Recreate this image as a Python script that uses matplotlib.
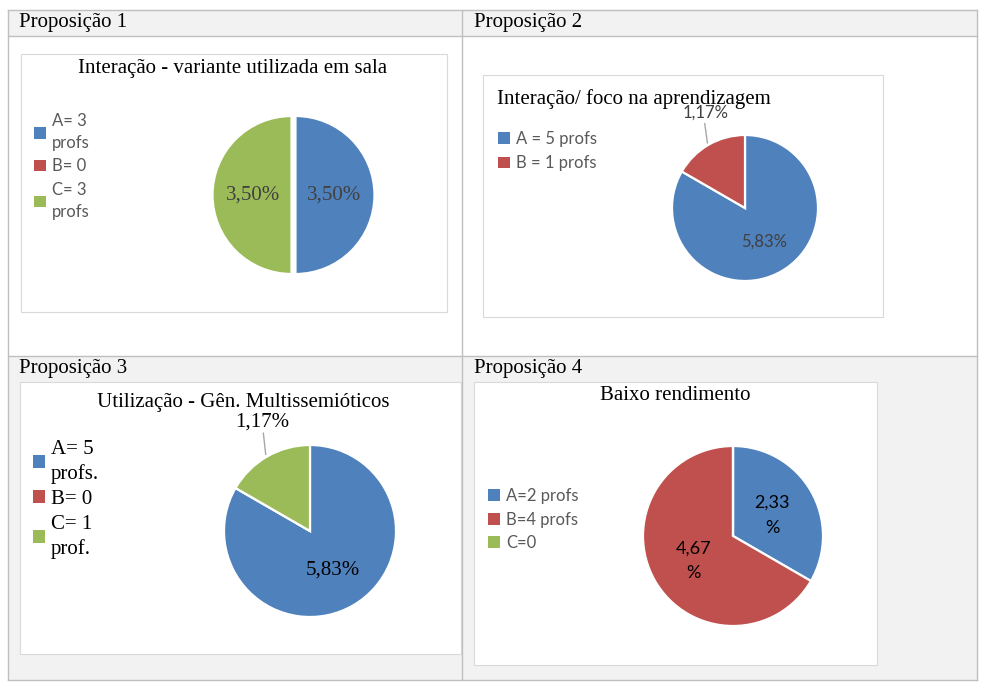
import matplotlib.pyplot as plt
import numpy as np
from matplotlib.patches import Rectangle

# dados
cores = ['#4f81bd', '#c0504d', '#9bbb59']

titulo_1 = 'Interação - variante utilizada em sala'
legenda_1 = ['A= 3\nprofs', 'B= 0', 'C= 3\nprofs']
valores_1 = [3, 0, 3]
rotulos_1 = ['3,50%', '', '3,50%']

titulo_2 = 'Interação/ foco na aprendizagem'
legenda_2 = ['A = 5 profs', 'B = 1 profs']
valores_2 = [5, 1]
rotulos_2 = ['5,83%', '1,17%']

titulo_3 = 'Utilização - Gên. Multissemióticos'
legenda_3 = ['A= 5\nprofs.', 'B= 0', 'C= 1\nprof.']
valores_3 = [5, 0, 1]
rotulos_3 = ['5,83%', '', '1,17%']

titulo_4 = 'Baixo rendimento'
legenda_4 = ['A=2 profs', 'B=4 profs', 'C=0']
valores_4 = [2, 4, 0]
rotulos_4 = ['2,33\n%', '4,67\n%', '']

cabecalhos = ['Proposição 1', 'Proposição 2', 'Proposição 3', 'Proposição 4']

W, H = 987, 689
SERIF = 'Liberation Serif'
SANS = 'Lato'

fig = plt.figure(figsize=(W / 100, H / 100), dpi=100)
bg = fig.add_axes([0, 0, 1, 1])
bg.set_xlim(0, W)
bg.set_ylim(H, 0)
bg.axis('off')

# tabela
L, R, T, B = 7.5, 976.5, 9.5, 679.5
XM, YM, YH = 461.5, 355.5, 35.5
cinza = '#f2f2f2'
linha = '#bfbfbf'
bg.add_patch(Rectangle((L, T), R - L, YH - T, fc=cinza, ec='none'))
bg.add_patch(Rectangle((L, YM), R - L, B - YM, fc=cinza, ec='none'))
for x in (L, XM, R):
    bg.plot([x, x], [T, B], color=linha, lw=1)
for y in (T, YH, YM, B):
    bg.plot([L, R], [y, y], color=linha, lw=1)

# cabeçalhos
pos_cab = [(19, 22), (474, 22), (19, 368), (474, 368)]
for txt, (x, y) in zip(cabecalhos, pos_cab):
    bg.text(x, y, txt, family=SERIF, fontsize=15, va='center', ha='left')

# painéis dos gráficos
paineis = [(21, 54, 447, 312), (483, 75, 883, 317), (20, 382, 461, 654), (474, 382, 877, 665)]
for x0, y0, x1, y1 in paineis:
    bg.add_patch(Rectangle((x0, y0), x1 - x0, y1 - y0, fc='white', ec='#d9d9d9', lw=0.8))

# títulos
bg.text(233, 69, titulo_1, family=SERIF, fontsize=15, ha='center', va='center')
bg.text(497, 99, titulo_2, family=SERIF, fontsize=15, ha='left', va='center')
bg.text(243, 403, titulo_3, family=SERIF, fontsize=15, ha='center', va='center')
bg.text(675, 396, titulo_4, family=SERIF, fontsize=15, ha='center', va='center')


def pizza(cx, cy, r, valores, explode=None):
    ax = fig.add_axes([(cx - r) / W, 1 - (cy + r) / H, 2 * r / W, 2 * r / H])
    wedges, _ = ax.pie(valores, colors=cores[:len(valores)], startangle=90,
                       counterclock=False, explode=explode,
                       wedgeprops=dict(edgecolor='white', linewidth=1.6))
    ax.set_xlim(-1, 1)
    ax.set_ylim(-1, 1)
    ax.set_aspect('equal')
    ax.axis('off')
    return ax, wedges


def rotulo(ax, w, txt, dist, dang=0, **kw):
    ang = np.deg2rad((w.theta1 + w.theta2) / 2 + dang)
    ax.text(dist * np.cos(ang), dist * np.sin(ang), txt, ha='center', va='center', **kw)


def guia(ax, w, r0, r1, dang):
    ang = np.deg2rad((w.theta1 + w.theta2) / 2)
    a1 = ang + np.deg2rad(dang)
    ax.plot([r0 * np.cos(ang), r1 * np.cos(a1)], [r0 * np.sin(ang), r1 * np.sin(a1)],
            color='#a6a6a6', lw=1, clip_on=False)


def legenda(wedges, nomes, x, y, familia, tam, cor, esp, entre):
    q = 8.6 / tam  # quadrado de ~12 px
    lg = fig.legend(wedges, nomes, loc='upper left', bbox_to_anchor=(x / W, 1 - y / H),
                    frameon=False, borderpad=0, borderaxespad=0, handlelength=q,
                    handleheight=q, handletextpad=4.4 / tam, labelspacing=esp,
                    prop=dict(family=familia, size=tam))
    for t in lg.get_texts():
        t.set_color(cor)
        t.set_linespacing(entre)
    for h in lg.legend_handles:
        h.set_linewidth(0)
    return lg


# Proposição 1
ax1, w1 = pizza(293.5, 195, 79, valores_1, explode=[0.025, 0, 0.025])
for w, t in zip(w1, rotulos_1):
    if t:
        rotulo(ax1, w, t, 0.51, family=SERIF, fontsize=15, color='#404040')
legenda(w1, legenda_1, 34, 113, SANS, 12, '#595959', 0.45, 1.45)

# Proposição 2
ax2, w2 = pizza(745, 208, 73, valores_2)
rotulo(ax2, w2[0], rotulos_2[0], 0.53, family=SANS, fontsize=12, color='#404040')
rotulo(ax2, w2[1], rotulos_2[1], 1.42, dang=-7.5, family=SANS, fontsize=12, color='#404040')
guia(ax2, w2[1], 1.03, 1.28, -4.5)
legenda(w2, legenda_2, 498, 131, SANS, 12, '#595959', 0.5, 1.2)

# Proposição 3
ax3, w3 = pizza(310, 531, 86, valores_3)
rotulo(ax3, w3[0], rotulos_3[0], 0.52, family=SERIF, fontsize=15, color='black')
rotulo(ax3, w3[2], rotulos_3[2], 1.38, dang=-6.5, family=SERIF, fontsize=15, color='black')
guia(ax3, w3[2], 1.03, 1.26, -4.5)
legenda(w3, legenda_3, 33, 440, SERIF, 15, 'black', 0.28, 1.35)

# Proposição 4
ax4, w4 = pizza(733, 536, 90, valores_4)
rotulo(ax4, w4[0], rotulos_4[0], 0.49, dang=-2, family=SANS, fontsize=13, color='black',
       linespacing=1.7)
rotulo(ax4, w4[1], rotulos_4[1], 0.52, dang=2, family=SANS, fontsize=13, color='black',
       linespacing=1.7)
legenda(w4, legenda_4, 488, 488, SANS, 12, '#595959', 0.45, 1.2)

fig.savefig('out.png', dpi=100)
